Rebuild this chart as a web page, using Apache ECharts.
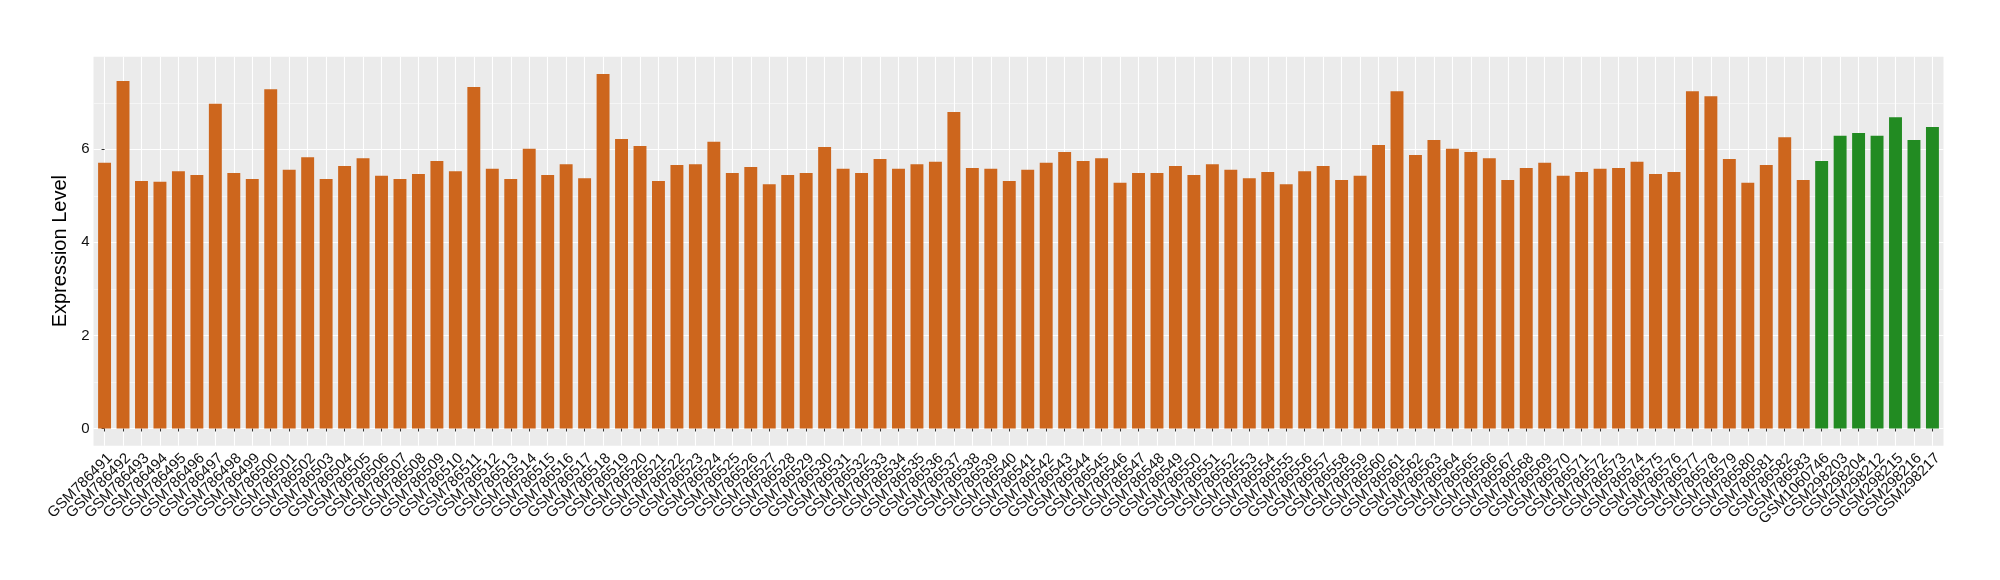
<!DOCTYPE html>
<html>
<head>
<meta charset="utf-8">
<script src="https://cdn.jsdelivr.net/npm/echarts@6/dist/echarts.min.js"></script>
<style>
  html, body { margin: 0; padding: 0; background: #ffffff; }
  #chart { width: 2000px; height: 580px; }
</style>
</head>
<body>
<div id="chart"></div>
<script>
// ---- Data ----
const categoriesA = [
  'GSM786491','GSM786492','GSM786493','GSM786494','GSM786495','GSM786496','GSM786497','GSM786498','GSM786499','GSM786500',
  'GSM786501','GSM786502','GSM786503','GSM786504','GSM786505','GSM786506','GSM786507','GSM786508','GSM786509','GSM786510',
  'GSM786511','GSM786512','GSM786513','GSM786514','GSM786515','GSM786516','GSM786517','GSM786518','GSM786519','GSM786520',
  'GSM786521','GSM786522','GSM786523','GSM786524','GSM786525','GSM786526','GSM786527','GSM786528','GSM786529','GSM786530',
  'GSM786531','GSM786532','GSM786533','GSM786534','GSM786535','GSM786536','GSM786537','GSM786538','GSM786539','GSM786540',
  'GSM786541','GSM786542','GSM786543','GSM786544','GSM786545','GSM786546','GSM786547','GSM786548','GSM786549','GSM786550',
  'GSM786551','GSM786552','GSM786553','GSM786554','GSM786555','GSM786556','GSM786557','GSM786558','GSM786559','GSM786560',
  'GSM786561','GSM786562','GSM786563','GSM786564','GSM786565','GSM786566','GSM786567','GSM786568','GSM786569','GSM786570',
  'GSM786571','GSM786572','GSM786573','GSM786574','GSM786575','GSM786576','GSM786577','GSM786578','GSM786579','GSM786580',
  'GSM786581','GSM786582','GSM786583'
];
const categoriesB = ['GSM1060746','GSM298203','GSM298204','GSM298212','GSM298215','GSM298216','GSM298217'];

const valuesA = [
  5.71, 7.47, 5.32, 5.30, 5.53, 5.45, 6.98, 5.49, 5.36, 7.29,
  5.56, 5.83, 5.36, 5.64, 5.81, 5.43, 5.36, 5.47, 5.75, 5.53,
  7.34, 5.58, 5.36, 6.01, 5.45, 5.68, 5.38, 7.62, 6.22, 6.07,
  5.32, 5.66, 5.68, 6.16, 5.49, 5.62, 5.25, 5.45, 5.49, 6.05,
  5.58, 5.49, 5.79, 5.58, 5.68, 5.73, 6.80, 5.60, 5.58, 5.32,
  5.56, 5.71, 5.94, 5.75, 5.81, 5.28, 5.49, 5.49, 5.64, 5.45,
  5.68, 5.56, 5.38, 5.51, 5.25, 5.53, 5.64, 5.34, 5.43, 6.09,
  7.25, 5.88, 6.20, 6.01, 5.94, 5.81, 5.34, 5.60, 5.71, 5.43,
  5.51, 5.58, 5.60, 5.73, 5.47, 5.51, 7.25, 7.14, 5.79, 5.28,
  5.66, 6.26, 5.34
];
const valuesB = [5.75, 6.29, 6.35, 6.29, 6.69, 6.20, 6.48];

const yMajorTicks = [0, 2, 4, 6];
const yMinorTicks = [1, 3, 5, 7];
const yMin = -0.37;
const yMax = 7.99;

// ---- Build ----
const COLOR_A = '#CD661D';
const COLOR_B = '#228B22';
const FONT = "'Liberation Sans', Arial, Helvetica, sans-serif";

const categories = categoriesA.concat(categoriesB);
const positions = categories.map((_, i) => i);
const barData = valuesA.map(v => ({ value: v, itemStyle: { color: COLOR_A } }))
  .concat(valuesB.map(v => ({ value: v, itemStyle: { color: COLOR_B } })));

// panel geometry (ggplot-like: 0.6 category expansion on each side)
const PANEL = { left: 93.5, right: 56.5, top: 56.7, bottom: 134.3 };
const PANEL_W = 2000 - PANEL.left - PANEL.right;
const EXP = 0.1 * PANEL_W / (categories.length + 1.2); // extra 0.1 band each side

const chart = echarts.init(document.getElementById('chart'), null, { renderer: 'canvas' });
chart.setOption({
  animation: false,
  backgroundColor: '#ffffff',
  grid: [
    { left: PANEL.left, right: PANEL.right, top: PANEL.top, bottom: PANEL.bottom,
      show: true, backgroundColor: '#EBEBEB', borderWidth: 0 },
    { left: PANEL.left + EXP, right: PANEL.right + EXP, top: PANEL.top, bottom: PANEL.bottom,
      show: false }
  ],
  xAxis: [
    {
      gridIndex: 0,
      type: 'value',
      min: -0.6,
      max: categories.length - 0.4,
      axisLine: { show: false },
      axisTick: { show: false, customValues: positions },
      axisLabel: { show: false, customValues: positions },
      splitLine: { show: true, lineStyle: { color: '#ffffff', width: 1.1 } }
    },
    {
      gridIndex: 1,
      type: 'category',
      data: categories,
      boundaryGap: true,
      axisLine: { show: false },
      axisTick: { show: true, alignWithLabel: true, interval: 0, length: 3, lineStyle: { color: '#333333', width: 1 } },
      axisLabel: {
        interval: 0,
        rotate: 45,
        fontSize: 15,
        fontFamily: FONT,
        color: '#111111',
        margin: 5,
        verticalAlign: 'top'
      },
      splitLine: { show: false }
    }
  ],
  yAxis: [
    {
      gridIndex: 0,
      type: 'value',
      min: yMin, max: yMax,
      name: 'Expression Level',
      nameLocation: 'middle',
      nameGap: 10,
      nameTextStyle: { fontSize: 20, fontFamily: FONT, color: '#000000' },
      axisLine: { show: false },
      axisTick: { show: true, customValues: yMajorTicks, length: 3, lineStyle: { color: '#333333', width: 1 } },
      axisLabel: { customValues: yMajorTicks, fontSize: 15, fontFamily: FONT, color: '#111111', margin: 4 },
      splitLine: { show: true, lineStyle: { color: '#ffffff', width: 1.1 } }
    },
    {
      gridIndex: 0,
      type: 'value',
      min: yMin, max: yMax,
      axisLine: { show: false },
      axisTick: { show: false, customValues: yMinorTicks },
      axisLabel: { show: false, customValues: yMinorTicks },
      splitLine: { show: true, lineStyle: { color: '#F7F7F7', width: 0.8 } }
    },
    {
      gridIndex: 1,
      type: 'value',
      min: yMin, max: yMax,
      show: false,
      splitLine: { show: false }
    }
  ],
  series: [{
    type: 'bar',
    xAxisIndex: 1,
    yAxisIndex: 2,
    barWidth: '70%',
    data: barData
  }]
});
</script>
</body>
</html>
